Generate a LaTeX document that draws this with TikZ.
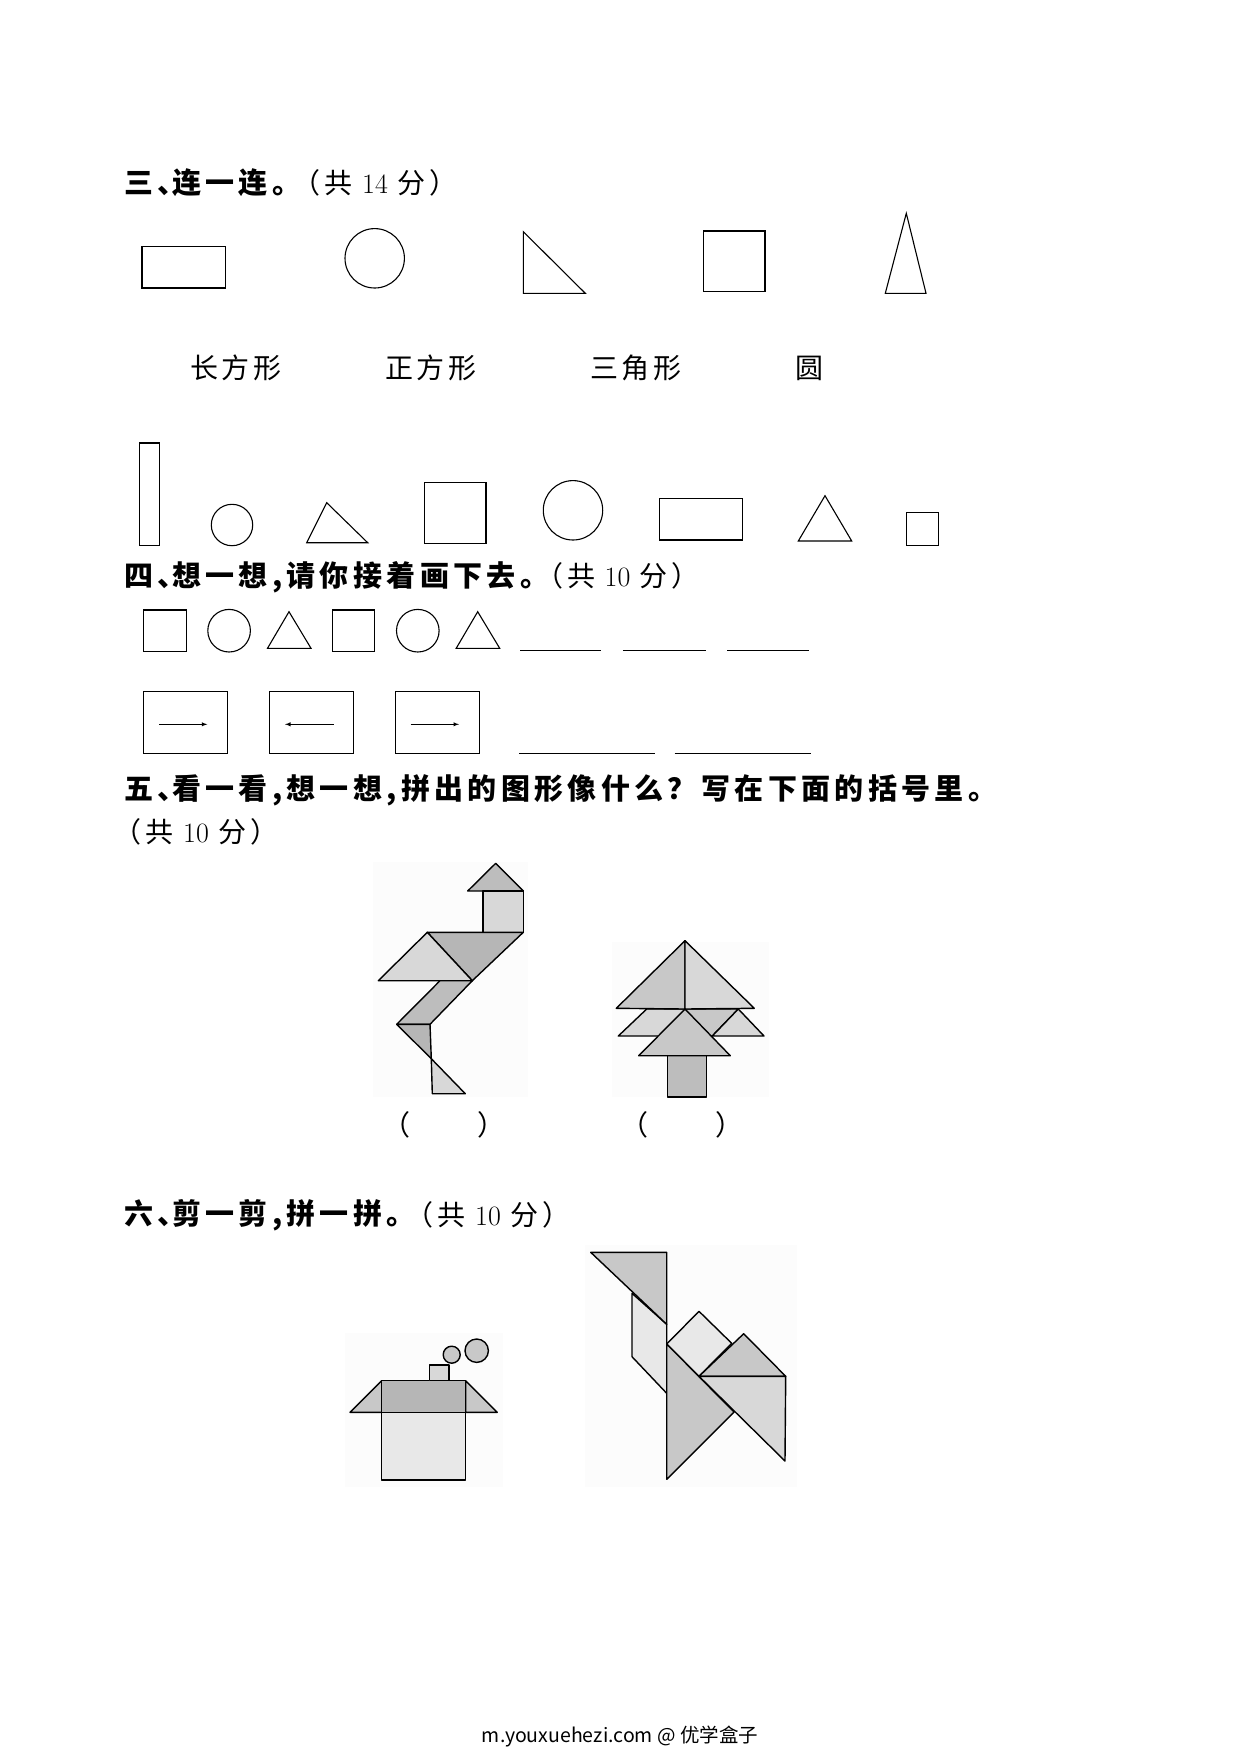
\documentclass[tikz,border=0pt]{standalone}
\usepackage{fontspec}
\newfontfamily\cjk[LetterSpace=14]{Noto Sans CJK SC}
\newfontfamily\cjkhead[LetterSpace=15]{Noto Sans CJK SC}
\newfontfamily\cjkfoot{Noto Sans CJK SC}
\newcommand{\dun}{、\hspace{-.5em}}
\newcommand{\juhao}{。\hspace{-.6em}}
\newcommand{\score}[1]{\hspace{-.5em}（共\,\,{\rmfamily #1}\,\,分）\hspace{-.6em}}
\definecolor{paper}{HTML}{FCFCFC}
\definecolor{pale}{HTML}{E8E8E8}
\definecolor{light}{HTML}{D8D8D8}
\definecolor{mid}{HTML}{C8C8C8}
\definecolor{deep}{HTML}{B6B6B6}
\tikzset{
	outline/.style={draw, line width=1.1pt},
	piece/.style={draw, line width=1.4pt, line join=round},
	blank/.style={draw, line width=1.1pt},
	heading/.style={anchor=west, inner sep=0pt, font=\fontsize{29}{29}\selectfont\cjkhead\bfseries},
	label/.style={inner sep=0pt, font=\fontsize{28}{28}\selectfont\cjk},
}
\begin{document}
\begin{tikzpicture}[x=1pt, y=-1pt]
	\useasboundingbox (0,0) rectangle (1241,1754);

	% section three
	\node [heading] (h3) at (124,183) {三\dun 连一连\juhao};
	\node [label] (s3) at (382,183) {\score{14}};
	\draw [outline] (142,246.7) rectangle (225.7,288);
	\draw [outline] (374.7,258.3) circle (29.7);
	\draw [outline] (523.3,231.7) -- (523.3,293.3) -- (585.3,293.3) -- cycle;
	\draw [outline] (703.7,231) rectangle (765,291.3);
	\draw [outline] (906.3,213.3) -- (885.3,293.3) -- (926,293.3) -- cycle;
	\node [label] (l1) at (236,368) {长方形};
	\node [label] (l2) at (431,368) {正方形};
	\node [label] (l3) at (636,368) {三角形};
	\node [label] (l4) at (809,368) {圆};
	\draw [outline] (139.3,443) rectangle (159.7,545.3);
	\draw [outline] (232,525) circle (20.7);
	\draw [outline] (306.7,542.7) -- (326.7,502.7) -- (367.7,542.7) -- cycle;
	\draw [outline] (424.7,482.7) rectangle (486,543.3);
	\draw [outline] (573,510.3) circle (29.7);
	\draw [outline] (659.3,498.3) rectangle (742.7,540);
	\draw [outline] (798.3,541) -- (825,495.7) -- (851.7,541) -- cycle;
	\draw [outline] (906.3,512.3) rectangle (938.7,545.3);

	% section four
	\node [heading] (h4) at (124,577) {四\dun 想一想,请你接着画下去\juhao};
	\node [label] (s4) at (624.5,576) {\score{10}};
	\foreach \px in {0,188.7} {
		\draw [outline] (143.5+\px,610) rectangle (186.2+\px,651.3);
		\draw [outline] (229.1+\px,630.7) circle (21.3);
		\draw [outline] (267.5+\px,648.3) -- (289+\px,611.7) -- (311+\px,648.3) -- cycle;
	}
	\draw [blank] (520,650.3) -- (601.3,650.3);
	\draw [blank] (622.9,650.3) -- (705.5,650.3);
	\draw [blank] (727,650.3) -- (808.8,650.3);
	\foreach \px in {143.5,269.8,395.6}
		\draw [outline] (\px,691.3) rectangle (\px+84,753.7);
	\draw [-latex, line width=.9pt] (159,724.3) -- (207.3,724.3);
	\draw [latex-, line width=.9pt] (285,724.3) -- (334,724.3);
	\draw [-latex, line width=.9pt] (410.7,724.3) -- (459,724.3);
	\draw [blank] (519,753.3) -- (655,753.3);
	\draw [blank] (674.7,753.3) -- (811,753.3);

	% section five
	\node [heading] (h5) at (124,790) {五\dun 看一看,想一想,拼出的图形像什么？写在下面的括号里\juhao};
	\node [label] (s5) at (203,832) {\score{10}};
	\fill [paper] (373,862) rectangle (528,1097);
	\fill [paper] (612,942) rectangle (769,1097);

	% bird
	\coordinate (B1) at (427.3,932.3);
	\coordinate (B2) at (523.3,932.3);
	\coordinate (B3) at (472.3,980.7);
	\coordinate (B4) at (396.7,1024.3);
	\coordinate (B5) at (430,1024.3);
	\coordinate (B6) at (431.3,1058.7);
	\draw [piece, fill=deep!90!white] (495.7,863.3) -- (467.7,891) -- (523.3,891) -- cycle;
	\draw [piece, fill=light] (483,891) rectangle (B2);
	\draw [piece, fill=deep] (B1) -- (B2) -- (B3) -- cycle;
	\draw [piece, fill=light] (B1) -- (378.3,980.7) -- (B3) -- cycle;
	\draw [piece, fill=deep!90!white] (440,980.7) -- (B3) -- (B5) -- (B4) -- cycle;
	\draw [piece, fill=deep] (B4) -- (B5) -- (B6) -- cycle;
	\draw [piece, fill=light] (B6) -- (432.3,1093.7) -- (465.3,1093.7) -- cycle;
	\node [label] (p1) at (444,1125) {（\hspace{67pt}）};

	% tree
	\coordinate (T1) at (685,940.7);
	\coordinate (T2) at (685,1009);
	\draw [piece, fill=light] (646.7,1009) -- (618.3,1036) -- (700,1036) -- (T2) -- cycle;
	\draw [piece, fill=mid] (T2) -- (738.3,1009) -- (712.3,1036) -- (690,1036) -- cycle;
	\draw [piece, fill=light] (738.3,1009) -- (712.3,1036) -- (764,1036) -- cycle;
	\draw [piece, fill=mid] (T1) -- (616.3,1008.3) -- (T2) -- cycle;
	\draw [piece, fill=light] (T1) -- (754.3,1008.3) -- (T2) -- cycle;
	\draw [piece, fill=deep!90!white] (667.3,1055.7) rectangle (706.3,1097);
	\draw [piece, fill=mid] (T2) -- (638.7,1055.7) -- (730.3,1055.7) -- cycle;
	\node [label] (p2) at (682,1125) {（\hspace{67pt}）};

	% section six
	\node [heading] (h6) at (124,1215) {六\dun 剪一剪,拼一拼\juhao};
	\node [label] (s6) at (495,1215) {\score{10}};
	\fill [paper] (345,1333) rectangle (503,1487);
	\fill [paper] (585,1245) rectangle (797,1487);

	% house
	\coordinate (H1) at (381.7,1380.7);
	\coordinate (H2) at (465.7,1380.7);
	\coordinate (H3) at (381.7,1412.3);
	\coordinate (H4) at (465.7,1412.3);
	\draw [piece, fill=mid] (H1) -- (350,1412.3) -- (H3) -- cycle;
	\draw [piece, fill=mid] (H2) -- (497.3,1412.3) -- (H4) -- cycle;
	\draw [piece, fill=pale] (H3) rectangle (465.7,1480);
	\draw [piece, fill=deep] (H1) rectangle (H4);
	\draw [piece, fill=light] (429.3,1365) rectangle (449,1380.7);
	\draw [piece, fill=mid] (451.7,1354.7) circle (8.5);
	\draw [piece, fill=mid] (476.7,1350.7) circle (11.7);

	% camel
	\coordinate (C1) at (666.7,1324.3);
	\coordinate (C2) at (699,1376.3);
	\coordinate (C3) at (785.7,1376.3);
	\coordinate (C4) at (666.7,1344);
	\draw [piece, fill=pale] (632,1293.3) -- (C1) -- (666.7,1393.3) -- (632,1356.7) -- cycle;
	\draw [piece, fill=mid] (590.7,1252.3) -- (666.7,1252.3) -- (C1) -- cycle;
	\draw [piece, fill=pale] (C4) -- (699,1311.3) -- (731.7,1343.3) -- (C2) -- cycle;
	\draw [piece, fill=mid] (C2) -- (743.7,1333.7) -- (C3) -- cycle;
	\draw [piece, fill=mid] (C4) -- (666.7,1479.3) -- (734,1412) -- cycle;
	\draw [piece, fill=light] (C2) -- (C3) -- (785,1461) -- cycle;

	\node [inner sep=0pt, font=\fontsize{19.5}{19.5}\selectfont\cjkfoot] (foot) at (620,1736) {m.youxuehezi.com @ 优学盒子};
\end{tikzpicture}
\end{document}
